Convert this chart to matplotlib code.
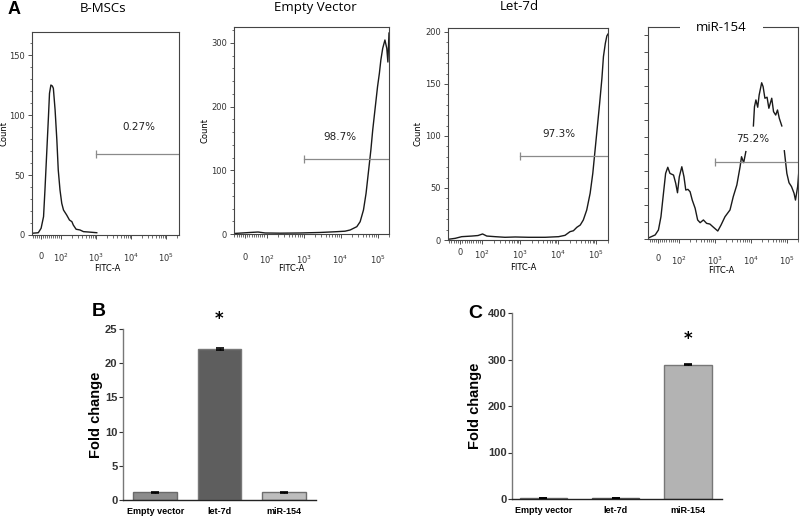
import numpy as np
import matplotlib
matplotlib.use("Agg")
import matplotlib.pyplot as plt
from matplotlib.ticker import FixedLocator, NullFormatter

# ---------------- data ----------------
# flow histograms: x in display channel units (0 -> "0", 0.58 -> 10^2, +1 per decade)
bmsc_u = [-0.27, -0.08, 0.0, 0.07, 0.11, 0.16, 0.21, 0.24, 0.28, 0.32, 0.35, 0.40, 0.45, 0.49,
          0.54, 0.59, 0.64, 0.73, 0.81, 0.88, 0.92, 1.00, 1.11, 1.21, 1.35, 1.59]
bmsc_count = [1.4, 1.9, 5.6, 15.3, 37.5, 68.1, 98.6, 118.1, 125.0, 124.2, 122.3, 104.2, 79.2, 54.2,
              37.5, 26.4, 20.8, 16.7, 12.5, 11.1, 8.3, 4.8, 4.2, 2.8, 2.5, 1.9]

ev_u = [-0.30, 0.14, 0.35, 0.54, 0.95, 1.49, 2.03, 2.43, 2.70, 2.84, 3.02, 3.11, 3.20, 3.27,
        3.33, 3.40, 3.45, 3.51, 3.58, 3.63, 3.67, 3.72, 3.78, 3.83, 3.86, 3.89]
ev_count = [0.8, 2.4, 3.1, 1.6, 1.3, 1.6, 2.4, 3.5, 4.4, 6.3, 11.5, 19.3, 37.7, 63.9,
            95.3, 131.9, 163.3, 194.7, 231.2, 252.3, 273.2, 291.5, 304.6, 291.5, 270.0, 315.5]

let7d_u = [-0.31, -0.13, 0.04, 0.31, 0.47, 0.59, 0.70, 0.92, 1.18, 1.45, 1.80, 2.24, 2.59, 2.76,
           2.89, 2.98, 3.07, 3.16, 3.24, 3.33, 3.42, 3.49, 3.55, 3.61, 3.67, 3.73, 3.77, 3.82,
           3.86, 3.89]
let7d_count = [0.7, 1.6, 3.2, 3.8, 4.3, 5.8, 3.8, 3.2, 2.6, 2.9, 2.6, 2.6, 3.2, 4.5,
               8.0, 8.9, 12.2, 14.4, 19.2, 28.8, 44.9, 64.1, 86.5, 108.9, 131.4, 155.5, 176.3,
               189.1, 196.2, 198.0]

mir154_u = [-0.29, -0.08, 0.01, 0.08, 0.15, 0.21, 0.27, 0.33, 0.43, 0.49, 0.54, 0.59, 0.66, 0.72,
            0.77, 0.83, 0.89, 0.95, 1.03, 1.10, 1.17, 1.26, 1.35, 1.44, 1.54, 1.66, 1.75, 1.86,
            2.00, 2.09, 2.19, 2.28, 2.32, 2.38, 2.44, 2.55,
            2.65, 2.68, 2.72, 2.77, 2.81, 2.88, 2.92, 2.97, 3.03, 3.08, 3.16, 3.21, 3.27, 3.32,
            3.37, 3.44, 3.48,
            3.51, 3.58, 3.64, 3.71, 3.78, 3.82, 3.88, 3.92]
mir154_count = [0.4, 2.4, 5.3, 13.1, 26.9, 38.6, 42.2, 38.6, 37.6, 32.8, 27.2, 36.6, 42.5, 36.6,
                28.8, 29.2, 27.8, 22.9, 18.1, 11.2, 9.6, 11.2, 9.2, 8.8, 6.9, 4.7, 8.2, 13.1,
                17.1, 24.9, 31.8, 42.5, 48.4, 44.9, 51.4, np.nan,
                66.5, 77.8, 81.8, 77.5, 84.7, 91.9, 89.6, 82.8, 83.4, 76.9, 82.8, 74.9, 72.9, 75.9,
                71.0, 66.5, np.nan,
                51.9, 38.6, 33.1, 30.8, 26.9, 22.9, 30.8, 41.6]

flow_titles = ["B-MSCs", "Empty Vector", "Let-7d", "miR-154"]
gate_labels = ["0.27%", "98.7%", "97.3%", "75.2%"]
gate_levels = [67.5, 117.0, 80.8, 45.5]
xtick_labels = ["0", "$10^2$", "$10^3$", "$10^4$", "$10^5$"]

bar_categories = ["Empty vector", "let-7d", "miR-154"]
b_values = [1.1, 22.1, 1.15]
b_errors = [0.08, 0.12, 0.08]
c_values = [2.0, 1.5, 289.0]
c_errors = [0.6, 0.4, 1.5]

# ---------------- figure ----------------
W, H = 800, 521
fig = plt.figure(figsize=(W / 100, H / 100), dpi=100)


def axes_px(l, t, r, b):
    return fig.add_axes([l / W, 1 - b / H, (r - l) / W, (b - t) / H])


lin_w = 0.58
xtick_pos = [0.0] + [lin_w + k for k in range(4)]
minor_pos = [lin_w * k / 10 for k in range(-5, 10)]
for dec in range(4):
    for k in range(2, 10):
        minor_pos.append(lin_w + dec + np.log10(k))

flow_specs = [
    dict(box=(32, 32, 179, 235), xlim=(-0.26, 3.94), ylim=(0, 169.2), ymaj=50, ymin=10,
         data=(bmsc_u, bmsc_count), lab=(2.8, 90), xl=(0.51, -0.143), ylabels=True,
         title_xy=(103, 8), xpad=9),
    dict(box=(234, 27, 389, 234), xlim=(-0.30, 3.89), ylim=(0, 325), ymaj=100, ymin=20,
         data=(ev_u, ev_count), lab=(2.57, 152), xl=(0.37, -0.145), ylabels=True,
         title_xy=(315, 7), xpad=11),
    dict(box=(448, 28, 608, 240), xlim=(-0.32, 3.89), ylim=(0, 203.8), ymaj=50, ymin=10,
         data=(let7d_u, let7d_count), lab=(2.6, 102), xl=(0.47, -0.108), ylabels=True,
         title_xy=(519, 7), xpad=3),
    dict(box=(648, 27, 798, 239), xlim=(-0.28, 3.89), ylim=(0, 124.7), ymaj=10, ymin=None,
         data=(mir154_u, mir154_count), lab=(2.64, 59), xl=(0.49, -0.125), ylabels=False,
         title_xy=None, xpad=8),
]

small_font = dict(family=["Liberation Sans Narrow", "DejaVu Sans"], size=6)

for i, sp in enumerate(flow_specs):
    ax = axes_px(*sp["box"])
    u, c = sp["data"]
    ax.plot(u, c, color="#1a1a1a", lw=1.0, solid_joinstyle="round")
    ax.set_xlim(*sp["xlim"])
    ax.set_ylim(*sp["ylim"])
    g = gate_levels[i]
    ax.plot([xtick_pos[2], sp["xlim"][1]], [g, g], color="#8a8a8a", lw=0.9)
    ax.plot([xtick_pos[2]], [g], marker="|", ms=6, mew=0.9, color="#8a8a8a")
    ax.text(sp["lab"][0], sp["lab"][1], gate_labels[i], ha="center", va="center",
            fontsize=7.5, family="DejaVu Sans", color="#222222")
    for s in ax.spines.values():
        s.set_color("#444444")
        s.set_linewidth(0.8)
    ax.xaxis.set_major_locator(FixedLocator(xtick_pos))
    ax.xaxis.set_minor_locator(FixedLocator(minor_pos))
    ax.set_xticklabels(xtick_labels, fontsize=6, family="DejaVu Sans")
    ax.tick_params(axis="x", which="major", length=3, width=0.6, pad=sp["xpad"],
                   colors="#333333")
    ax.tick_params(axis="x", which="minor", length=2, width=0.5, colors="#333333")
    ymax = sp["ylim"][1]
    ax.yaxis.set_major_locator(FixedLocator(np.arange(0, ymax, sp["ymaj"])))
    if sp["ymin"]:
        ax.yaxis.set_minor_locator(FixedLocator(np.arange(0, ymax, sp["ymin"])))
    ax.tick_params(axis="y", which="major", length=3, width=0.6, pad=2, colors="#333333")
    ax.tick_params(axis="y", which="minor", length=1.5, width=0.5, colors="#333333")
    if sp["ylabels"]:
        for t in ax.get_yticklabels():
            t.set_fontsize(6)
            t.set_family(["Liberation Sans Narrow", "DejaVu Sans"])
        ax.set_ylabel("Count", fontdict=small_font)
        ax.yaxis.set_label_coords(-0.16, 0.5)
    else:
        ax.yaxis.set_major_formatter(NullFormatter())
    ax.set_xlabel("FITC-A", fontdict=small_font)
    ax.xaxis.set_label_coords(*sp["xl"])
    if sp["title_xy"] is not None:
        tx, ty = sp["title_xy"]
        fig.text(tx / W, 1 - ty / H, flow_titles[i], fontsize=9.5, family="Open Sans",
                 ha="center", va="center")
    else:
        ax.text(0.49, 1.0, flow_titles[i], transform=ax.transAxes, ha="center", va="center",
                fontsize=9.5, family="Open Sans",
                bbox=dict(boxstyle="square,pad=1.25", fc="white", ec="none"))

fig.text(8 / W, 1 - 10 / H, "A", fontsize=13, fontweight="bold", ha="left", va="center",
         family="Liberation Sans")

# ---------------- bar charts ----------------
bold_font = ["Liberation Sans", "DejaVu Sans"]


def bar_panel(box, values, errors, ylim, yticks, xlim, width, colors, edges, star_y, letter,
              letter_xy, ylab_x):
    ax = axes_px(*box)
    x = np.arange(len(values))
    ax.bar(x, values, width=width, color=colors, edgecolor=edges, linewidth=1.0, zorder=2)
    ax.errorbar(x, values, yerr=errors, fmt="none", ecolor="black", elinewidth=1.0,
                capsize=3, capthick=1.2, zorder=3)
    ax.set_xlim(*xlim)
    ax.set_ylim(*ylim)
    ax.set_yticks(yticks)
    ax.set_xticks(x)
    ax.set_xticklabels(bar_categories, fontsize=6.5, fontweight="bold", family=bold_font)
    for t in ax.get_yticklabels():
        t.set_fontsize(8)
        t.set_fontweight("bold")
        t.set_family(bold_font)
    ax.tick_params(axis="y", length=3, width=0.8, pad=1, colors="#333333")
    ax.tick_params(axis="x", length=0, pad=5)
    for s in ("top", "right"):
        ax.spines[s].set_visible(False)
    ax.spines["left"].set_color("#777777")
    ax.spines["left"].set_linewidth(1.0)
    ax.spines["bottom"].set_color("#222222")
    ax.spines["bottom"].set_linewidth(1.0)
    ax.set_ylabel("Fold change", fontsize=10.5, fontweight="bold", family=bold_font)
    ax.yaxis.set_label_coords(ylab_x, 0.5)
    star_i = int(np.argmax(values))
    ax.text(star_i, star_y, "*", ha="center", va="center", fontsize=12, fontweight="bold",
            clip_on=False)
    fig.text(letter_xy[0] / W, 1 - letter_xy[1] / H, letter, fontsize=14, fontweight="bold",
             ha="center", va="center", family="Liberation Sans")
    return ax


bar_panel((123, 329, 316, 500), b_values, b_errors, (0, 25), [0, 5, 10, 15, 20, 25],
          (-0.5, 2.5), 0.68, ["#8c8c8c", "#5e5e5e", "#bdbdbd"],
          ["#6a6a6a", "#787878", "#6e6e6e"], 26.4, "B", (99, 312), -0.105)

bar_panel((512, 313, 722, 499), c_values, c_errors, (0, 400), [0, 100, 200, 300, 400],
          (-0.43, 2.47), 0.65, ["#8c8c8c", "#5e5e5e", "#b3b3b3"],
          ["#6a6a6a", "#555555", "#777777"], 344, "C", (475, 313), -0.145)

fig.savefig("out.png", dpi=100, facecolor="white")
